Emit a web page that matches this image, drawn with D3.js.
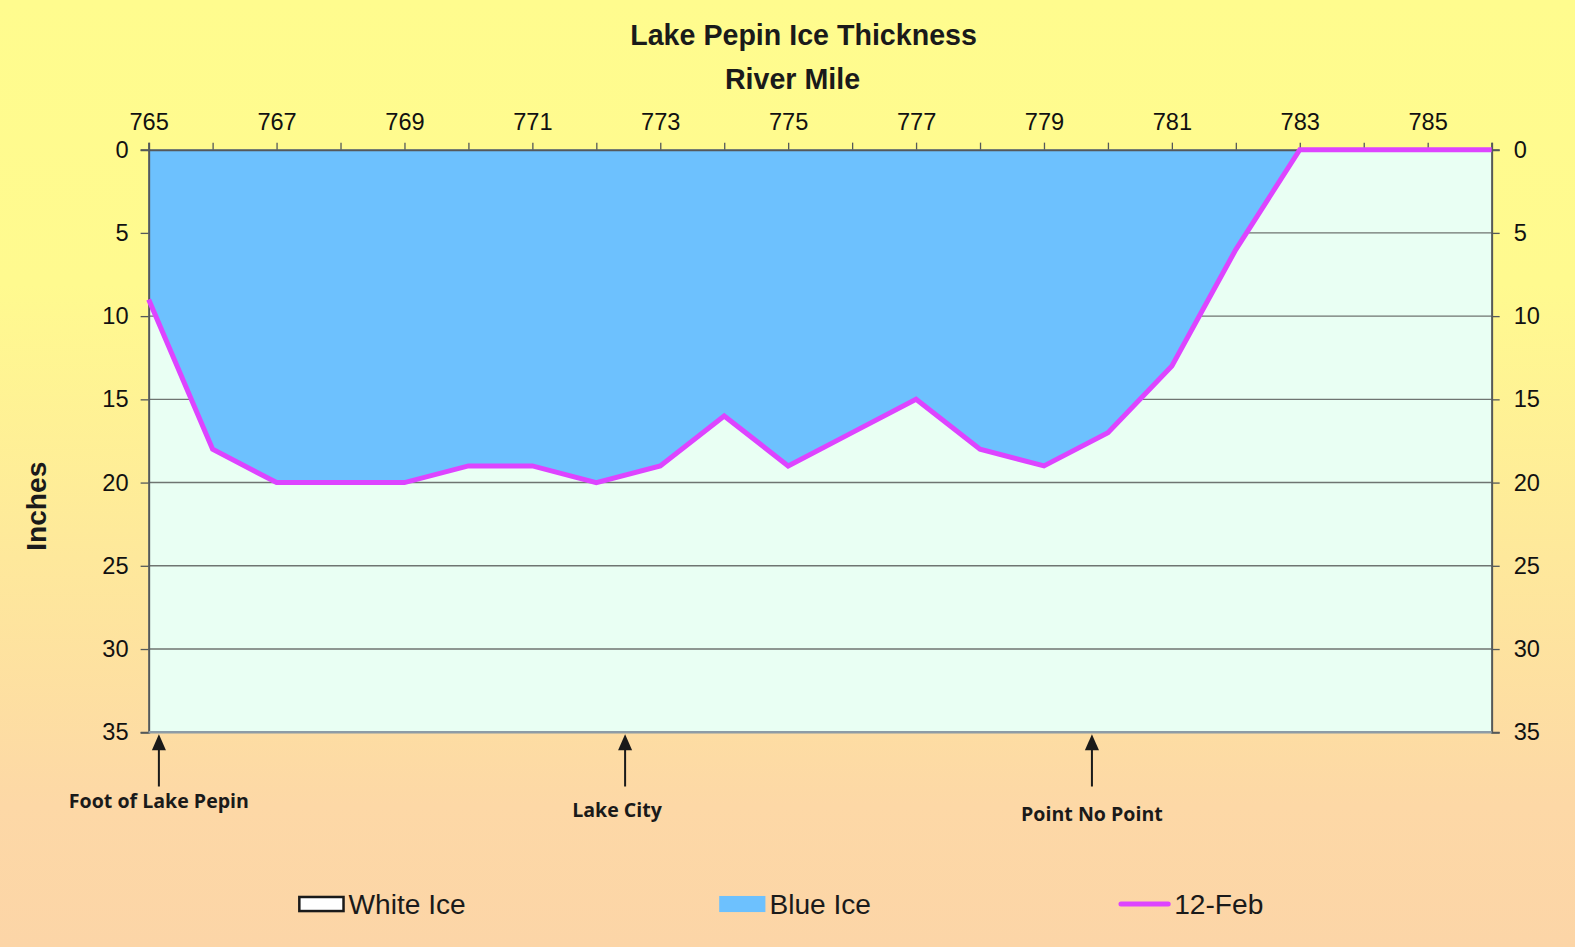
<!DOCTYPE html>
<html><head><meta charset="utf-8">
<script src="https://cdn.jsdelivr.net/npm/d3@7"></script>
<style>html,body{margin:0;padding:0;overflow:hidden;}</style>
</head><body>
<script>
const miles = [765,766,767,768,769,770,771,772,773,774,775,776,777,778,779,780,781,782,783,784,785,786];
const whiteIce = [0,0,0,0,0,0,0,0,0,0,0,0,0,0,0,0,0,0,0,0,0,0];
const feb12 = [9,18,20,20,20,19,19,20,19,16,19,17,15,18,19,17,13,6,0,0,0,0];
const xTickLabels = [765,767,769,771,773,775,777,779,781,783,785];
const yTickLabels = [0,5,10,15,20,25,30,35];
const landmarkNames = ["Foot of Lake Pepin","Lake City","Point No Point"];
const landmarkMiles = [765.16,772.45,779.75];
const legendNames = ["White Ice","Blue Ice","12-Feb"];

(function(){
const W=1575,H=947,k=1575/1568;
const svgRoot=d3.select("body").append("svg").attr("width",W).attr("height",H);
const defs=svgRoot.append("defs");
const g=defs.append("linearGradient").attr("id","bg").attr("x1",0).attr("y1",0).attr("x2",0).attr("y2",1);
g.append("stop").attr("offset","0").attr("stop-color","#FFFC8E");
g.append("stop").attr("offset","0.3").attr("stop-color","#FFFA8F");
g.append("stop").attr("offset","0.85").attr("stop-color","#FDD8A6");
g.append("stop").attr("offset","1").attr("stop-color","#FCD5A7");
svgRoot.append("rect").attr("width",W).attr("height",H).attr("fill","url(#bg)");
const svg=svgRoot.append("g").attr("transform",`scale(${k})`);

const L=148,R=1485,T=149,B=729;
const x=d3.scaleLinear().domain([765,786]).range([L,R]);
const y=d3.scaleLinear().domain([0,35]).range([T,B]);

svg.append("rect").attr("x",L).attr("y",T).attr("width",R-L).attr("height",B-T).attr("fill","#E9FFF3");

svg.append("g").selectAll("line").data(yTickLabels.filter(v=>v>0&&v<35)).join("line")
 .attr("x1",L).attr("x2",R).attr("y1",d=>y(d)).attr("y2",d=>y(d))
 .attr("stroke","#6f7571").attr("stroke-width",1.4);

const data=miles.map((m,i)=>({m,w:whiteIce[i],v:feb12[i]}));
svg.append("path").datum(data)
 .attr("d",d3.area().x(d=>x(d.m)).y0(d=>y(d.w)).y1(d=>y(d.v)))
 .attr("fill","#6DC1FE");
svg.append("path").datum(data)
 .attr("d",d3.area().x(d=>x(d.m)).y0(d=>y(0)).y1(d=>y(d.w)))
 .attr("fill","#ffffff");

const font="'Liberation Sans', Arial, sans-serif";
const axTop=svg.append("g").attr("transform",`translate(0,${T})`)
 .call(d3.axisTop(x).tickValues(miles).tickSize(7).tickPadding(13).tickFormat(d=>xTickLabels.includes(d)?d:""));
axTop.selectAll("text").attr("font-family",font).attr("font-size",23.5).attr("fill","#111").attr("dy","0");
const axLeft=svg.append("g").attr("transform",`translate(${L},0)`)
 .call(d3.axisLeft(y).tickValues(yTickLabels).tickSize(8).tickPadding(12));
axLeft.selectAll("text").attr("font-family",font).attr("font-size",23.5).attr("fill","#111");
const axRight=svg.append("g").attr("transform",`translate(${R},0)`)
 .call(d3.axisRight(y).tickValues(yTickLabels).tickSize(8).tickPadding(14));
axRight.selectAll("text").attr("font-family",font).attr("font-size",23.5).attr("fill","#111");
[axTop,axLeft,axRight].forEach(a=>{a.select(".domain").attr("stroke","#55595a").attr("stroke-width",2);a.selectAll(".tick line").attr("stroke","#55595a").attr("stroke-width",1.3);});
svg.append("line").attr("x1",L).attr("x2",R).attr("y1",B).attr("y2",B).attr("stroke","#8d9ca6").attr("stroke-width",2.5);

svg.append("path").datum(data)
 .attr("d",d3.line().x(d=>x(d.m)).y(d=>y(d.v)))
 .attr("fill","none").attr("stroke","#DD44FF").attr("stroke-width",5).attr("stroke-linejoin","miter");

svg.append("text").attr("x",800).attr("y",45).attr("text-anchor","middle")
 .attr("font-family",font).attr("font-weight","bold").attr("font-size",28.5).attr("fill","#1a1a1a").text("Lake Pepin Ice Thickness");
svg.append("text").attr("x",789).attr("y",89).attr("text-anchor","middle")
 .attr("font-family",font).attr("font-weight","bold").attr("font-size",28.5).attr("fill","#1a1a1a").text("River Mile");
svg.append("text").attr("transform","translate(46,504) rotate(-90)").attr("text-anchor","middle")
 .attr("font-family",font).attr("font-weight","bold").attr("font-size",28).attr("fill","#1a1a1a").text("Inches");

const labelY=[804,813,817];
const lm=svg.append("g");
landmarkMiles.forEach((m,i)=>{
  const cx=x(m);
  lm.append("line").attr("x1",cx).attr("x2",cx).attr("y1",744).attr("y2",783).attr("stroke","#1a1a1a").attr("stroke-width",2);
  lm.append("path").attr("d",`M${cx},731 L${cx-7},747 L${cx+7},747 Z`).attr("fill","#1a1a1a");
  lm.append("text").attr("x",cx+(i===1?-8:0)).attr("y",labelY[i]).attr("text-anchor","middle")
   .attr("font-family","'Open Sans', sans-serif").attr("font-weight","bold").attr("font-size",19.5).attr("fill","#1a1a1a")
   .text(landmarkNames[i]);
});

const leg=svg.append("g");
const lx=[297,716,1116];
leg.append("rect").attr("x",lx[0]+1).attr("y",893).attr("width",44).attr("height",14).attr("fill","#fff").attr("stroke","#1a1a1a").attr("stroke-width",2.5);
leg.append("rect").attr("x",lx[1]).attr("y",892).attr("width",46).attr("height",16).attr("fill","#6DC1FE");
leg.append("line").attr("x1",lx[2]).attr("x2",lx[2]+47).attr("y1",900).attr("y2",900).attr("stroke","#DD44FF").attr("stroke-width",5).attr("stroke-linecap","round");
legendNames.forEach((n,i)=>{
  leg.append("text").attr("x",lx[i]+(i===2?53:50)).attr("y",910).attr("font-family",font).attr("font-size",28).attr("fill","#1a1a1a").text(n);
});
})();
</script>
</body></html>
